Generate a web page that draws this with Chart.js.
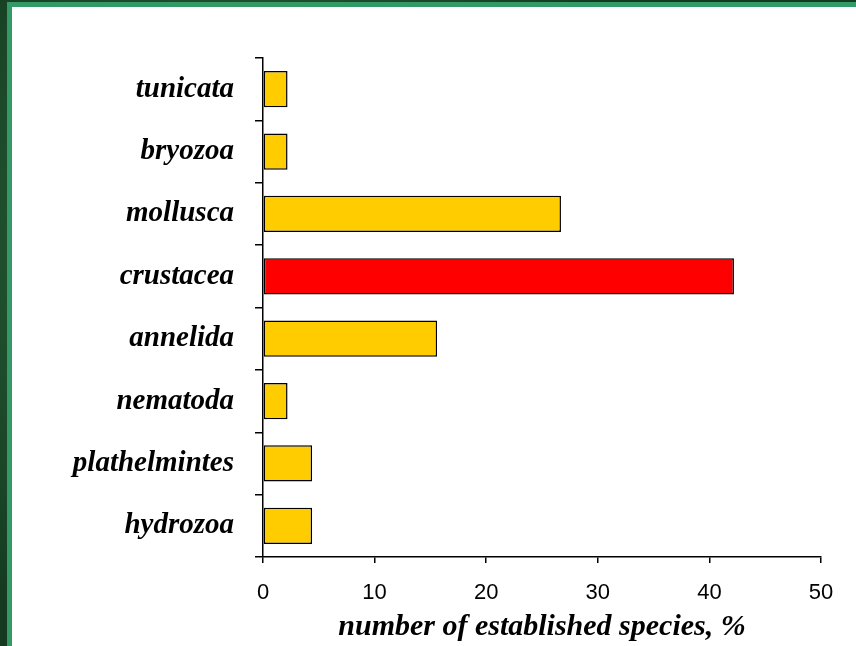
<!DOCTYPE html>
<html>
<head>
<meta charset="utf-8">
<script src="https://cdn.jsdelivr.net/npm/chart.js@4.4.1/dist/chart.umd.min.js"></script>
<style>
  html, body { margin: 0; padding: 0; }
  body {
    width: 856px; height: 646px; position: relative; overflow: hidden;
    background: #1d4a2a;
    background-image: radial-gradient(circle at 30% 40%, #2f6b3f 0, #143a20 60%);
  }
  /* cornice verde chiaro + area bianca */
  #frame {
    position: absolute; left: 7px; top: 2px; right: 0; bottom: 0;
    border-left: 5px solid #339966; border-top: 5px solid #339966;
    background: #ffffff;
  }
  #wrap { position: absolute; left: 0; top: 0; width: 856px; height: 646px; }
</style>
</head>
<body>
<div id="frame"></div>
<div id="wrap"><canvas id="chart" width="856" height="646"></canvas></div>
<script>
// Dati: percentuale di specie stabilite per gruppo
const categories = ['tunicata', 'bryozoa', 'mollusca', 'crustacea', 'annelida', 'nematoda', 'plathelmintes', 'hydrozoa'];
const percentValues = [2.2, 2.2, 26.7, 42.2, 15.6, 2.2, 4.4, 4.4];
const barColors = ['#FFCC00', '#FFCC00', '#FFCC00', '#FF0000', '#FFCC00', '#FFCC00', '#FFCC00', '#FFCC00'];
const xTicks = [0, 10, 20, 30, 40, 50];
const xTitle = 'number of established species, %';

const serifFamily = '"Liberation Serif", "Times New Roman", serif';

const ctx = document.getElementById('chart').getContext('2d');
new Chart(ctx, {
  type: 'bar',
  data: {
    labels: categories,
    datasets: [{
      data: percentValues,
      backgroundColor: barColors,
      borderColor: '#000000',
      borderWidth: 1.5,
      borderSkipped: false,
      categoryPercentage: 1,
      barPercentage: 0.58
    }]
  },
  options: {
    indexAxis: 'y',
    responsive: false,
    animation: false,
    layout: { padding: { top: 58, right: 35, left: 0, bottom: 0 } },
    plugins: { legend: { display: false }, tooltip: { enabled: false } },
    scales: {
      x: {
        min: 0, max: 50,
        afterBuildTicks: (scale) => { scale.ticks = xTicks.map(v => ({ value: v })); },
        afterFit: (scale) => { scale.height = 89; },
        border: { display: true, color: '#000000', width: 1.5 },
        grid: { drawOnChartArea: false, drawTicks: true, tickLength: 6, color: '#000000', lineWidth: 1.5 },
        ticks: { color: '#000000', padding: 17, font: { family: '"Liberation Sans", Arial, sans-serif', size: 22 } },
        title: { display: true, text: xTitle, color: '#000000',
                 font: { family: serifFamily, size: 30, weight: 'bold', style: 'italic', lineHeight: 1.2 },
                 padding: { top: 0, bottom: 1 } }
      },
      y: {
        afterFit: (scale) => { scale.width = 263; },
        border: { display: true, color: '#000000', width: 1.5 },
        grid: { drawOnChartArea: false, drawTicks: true, tickLength: 8, color: '#000000', lineWidth: 1.5, offset: true },
        ticks: { color: '#000000', padding: 21, font: { family: serifFamily, size: 29, weight: 'bold', style: 'italic' } }
      }
    }
  }
});
</script>
</body>
</html>
